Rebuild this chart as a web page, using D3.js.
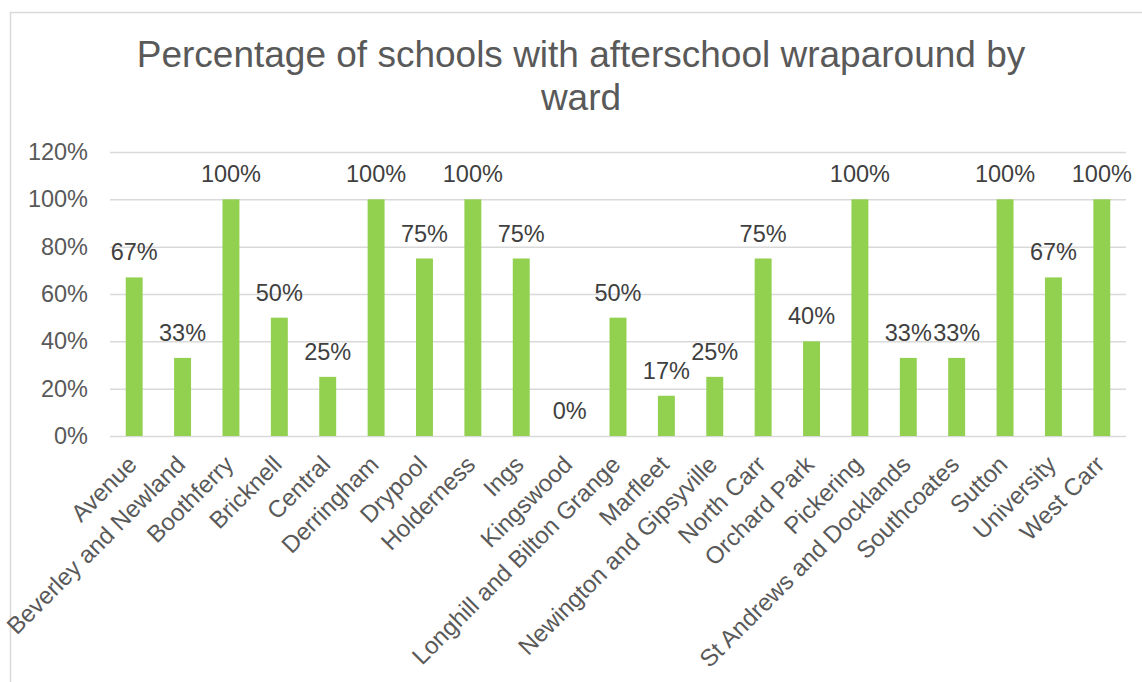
<!DOCTYPE html>
<html>
<head>
<meta charset="utf-8">
<script src="https://cdn.jsdelivr.net/npm/d3@7"></script>
<style>
  body { margin: 0; background: #fff; }
  svg { display: block; font-family: "Liberation Sans", Arial, sans-serif; }
</style>
</head>
<body>
<div id="chart"></div>
<script>

// ward names
var wards = ["Avenue", "Beverley and Newland", "Boothferry", "Bricknell", "Central",
	"Derringham", "Drypool", "Holderness", "Ings", "Kingswood",
	"Longhill and Bilton Grange", "Marfleet", "Newington and Gipsyville", "North Carr",
	"Orchard Park", "Pickering", "St Andrews and Docklands", "Southcoates",
	"Sutton", "University", "West Carr"];

// percentage with afterschool wraparound
var pct = [67, 33, 100, 50, 25, 100, 75, 100, 75, 0, 50, 17, 25, 75, 40, 100, 33, 33, 100, 67, 100];

var yTicks = [0, 20, 40, 60, 80, 100, 120];

var titleLines = ["Percentage of schools with afterschool wraparound by", "ward"];

var W = 1142, H = 682;
var margin = {top: 152, right: 16, bottom: 246, left: 110};
var width = W - margin.left - margin.right;
var height = H - margin.top - margin.bottom;

var svg = d3.select("#chart").append("svg")
	.attr("width", W)
	.attr("height", H);

// chart border
svg.append("rect")
	.attr("x", 10.5).attr("y", 12.5)
	.attr("width", 1200).attr("height", 700)
	.attr("fill", "none")
	.attr("stroke", "#d9d9d9")
	.attr("stroke-width", 1.5);

// title
svg.append("text")
	.attr("x", 581)
	.attr("y", 67)
	.attr("text-anchor", "middle")
	.attr("fill", "#595959")
	.style("font-size", "37px")
	.selectAll("tspan")
	.data(titleLines)
	.enter().append("tspan")
	.attr("x", 581)
	.attr("dy", function(d, i) { return i === 0 ? 0 : 43; })
	.text(function(d) { return d; });

var g = svg.append("g")
	.attr("transform", "translate(" + margin.left + "," + margin.top + ")");

var x = d3.scaleBand()
	.domain(wards)
	.range([0, width])
	.paddingInner(0.65)
	.paddingOuter(0.325);

var y = d3.scaleLinear()
	.domain([0, 120])
	.range([height, 0]);

// gridlines + y labels
var yAxis = g.append("g")
	.call(d3.axisLeft(y)
		.tickValues(yTicks)
		.tickSize(-width)
		.tickPadding(22)
		.tickFormat(function(d) { return d + "%"; }));

yAxis.select(".domain").remove();
yAxis.selectAll("line")
	.attr("stroke", "#d9d9d9")
	.attr("stroke-width", 1.5);
yAxis.selectAll("text")
	.attr("fill", "#595959")
	.style("font-size", "23.5px")
	.style("font-family", "Liberation Sans, Arial, sans-serif");

// bars
g.selectAll(".bar")
	.data(pct)
	.enter().append("rect")
	.attr("class", "bar")
	.attr("x", function(d, i) { return x(wards[i]); })
	.attr("y", function(d) { return y(d); })
	.attr("width", x.bandwidth())
	.attr("height", function(d) { return height - y(d); })
	.attr("fill", "#92d050");

// value labels
g.selectAll(".val")
	.data(pct)
	.enter().append("text")
	.attr("class", "val")
	.attr("x", function(d, i) { return x(wards[i]) + x.bandwidth() / 2; })
	.attr("y", function(d) { return y(d) - 17; })
	.attr("text-anchor", "middle")
	.attr("fill", "#404040")
	.style("font-size", "23.5px")
	.text(function(d) { return d + "%"; });

// category labels
var xAxis = g.append("g")
	.attr("transform", "translate(0," + height + ")")
	.call(d3.axisBottom(x).tickSize(0).tickPadding(0));

xAxis.select(".domain").remove();
xAxis.selectAll("text")
	.attr("fill", "#595959")
	.style("font-size", "24px")
	.style("font-family", "Liberation Sans, Arial, sans-serif")
	.attr("text-anchor", "end")
	.attr("dy", null)
	.attr("y", 0)
	.attr("transform", "translate(4,30) rotate(-45)");

</script>
</body>
</html>
